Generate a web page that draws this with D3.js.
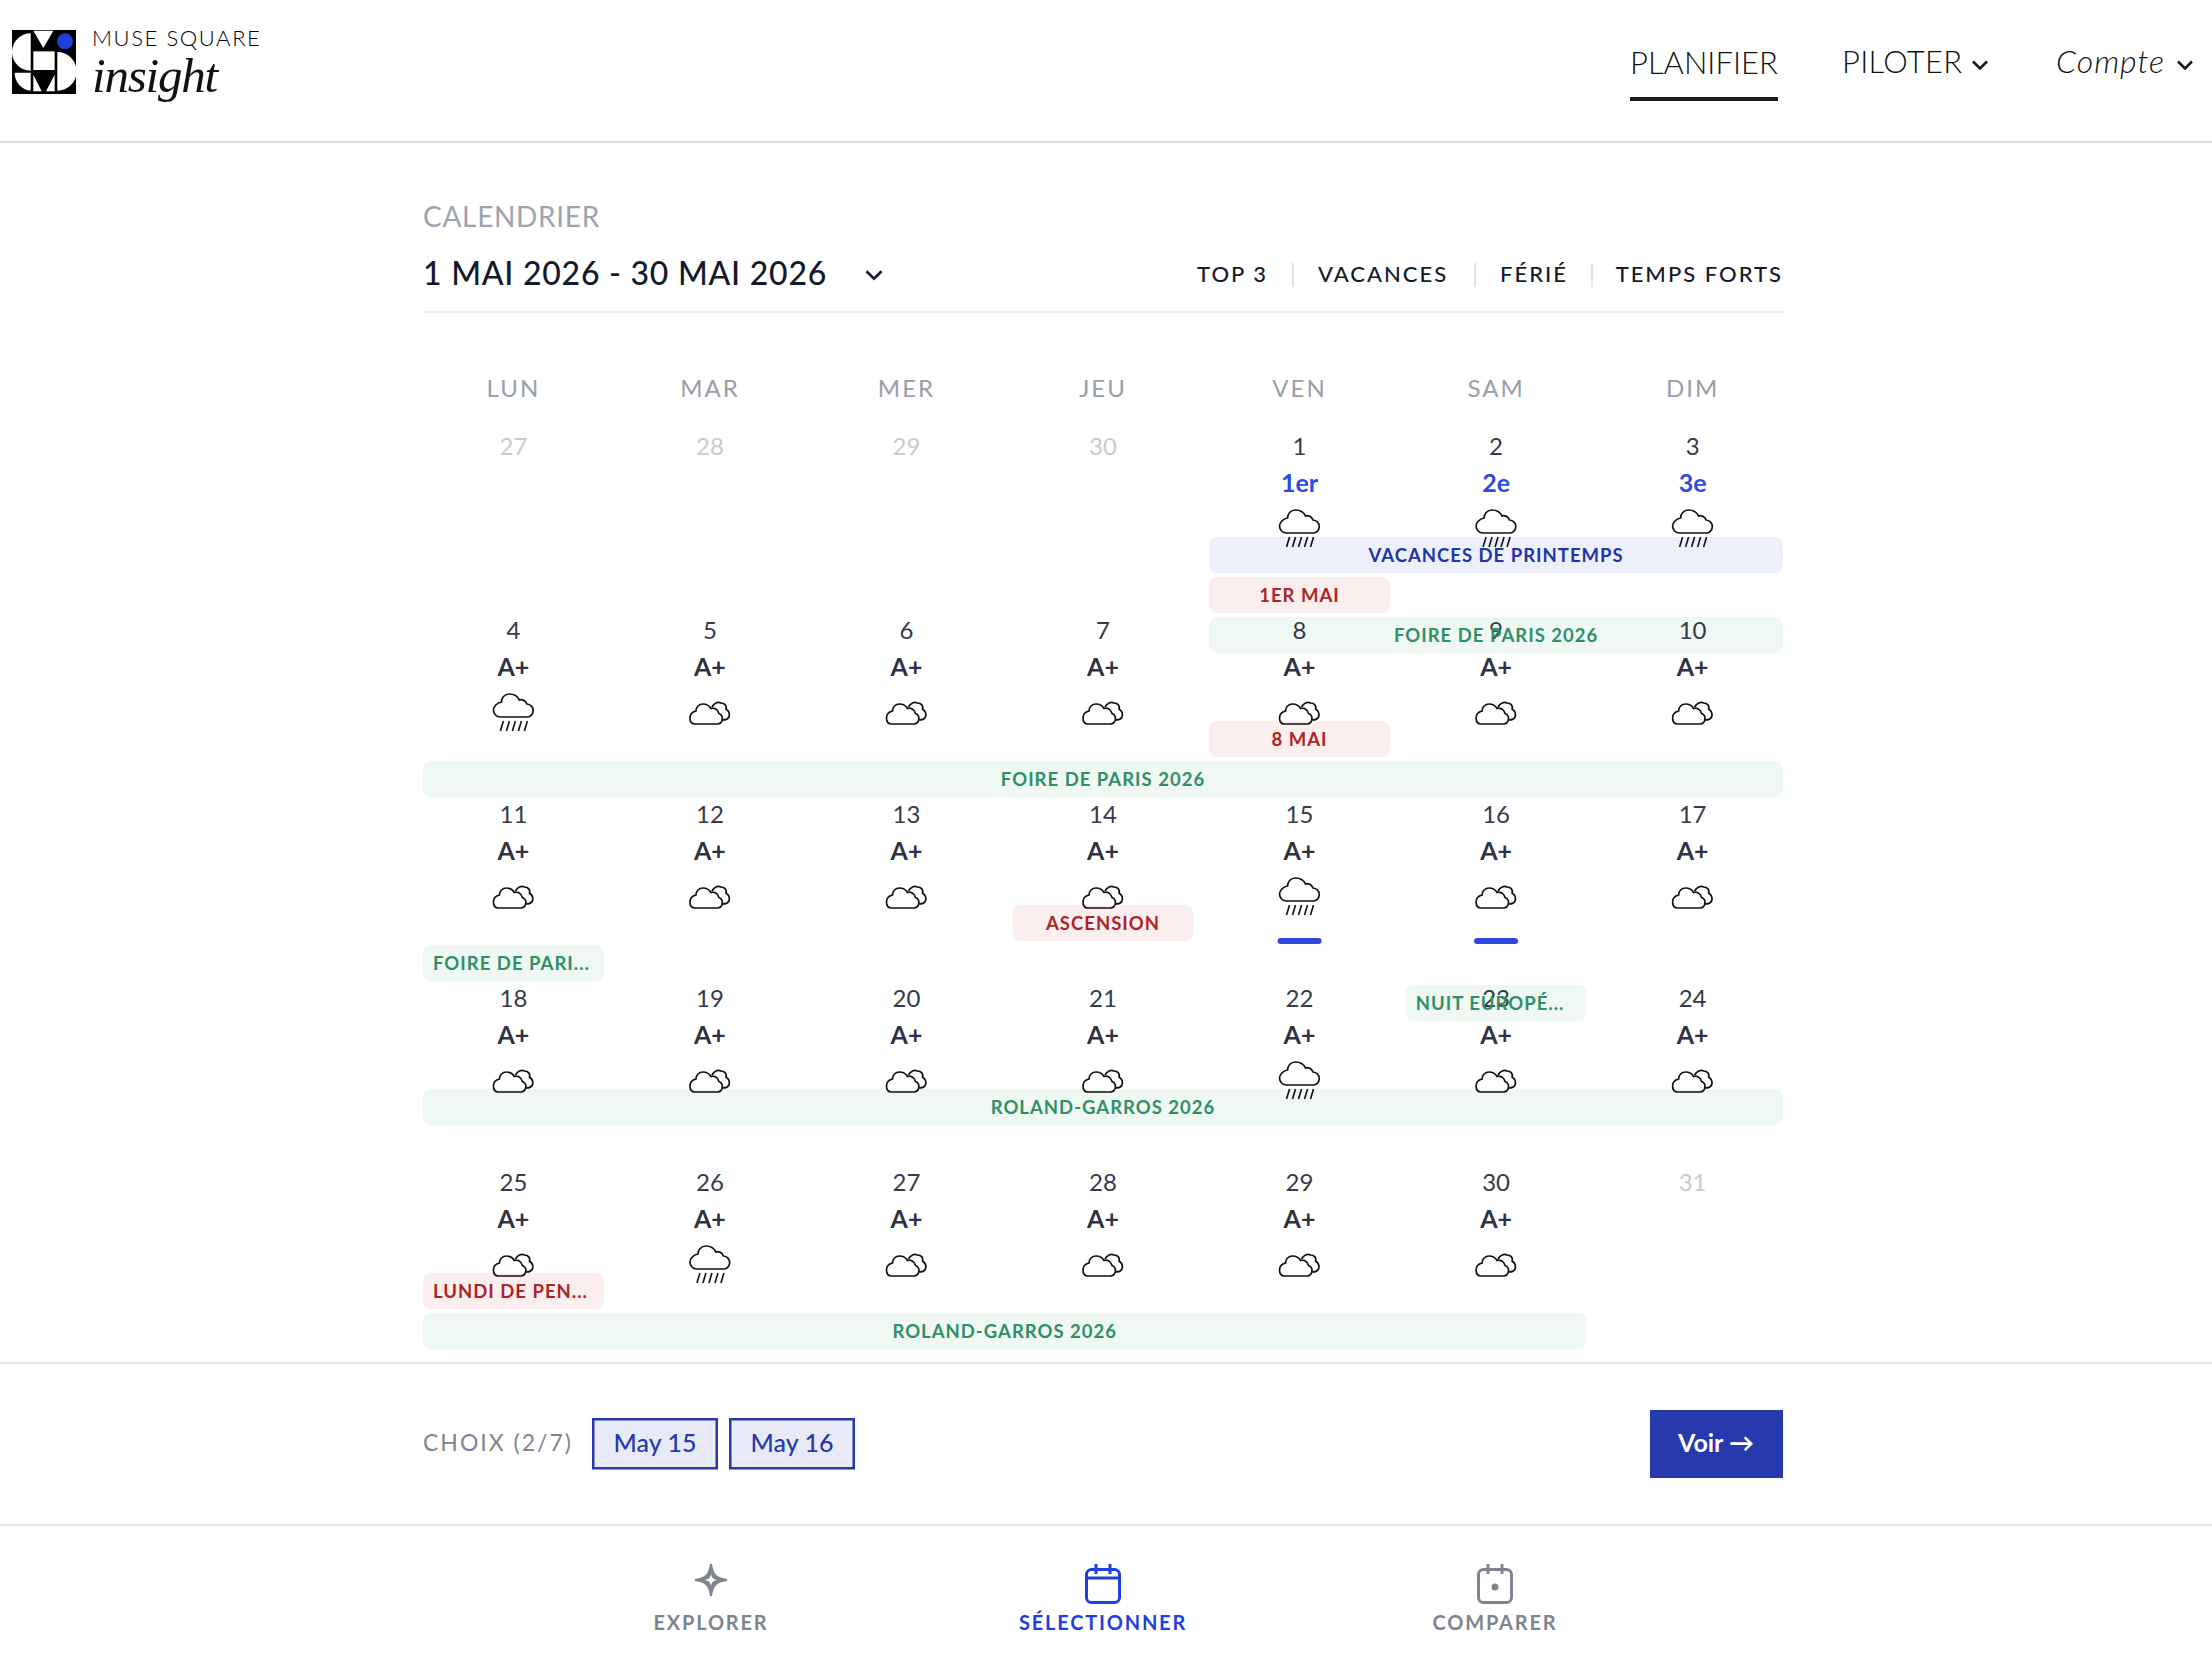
<!DOCTYPE html>
<html><head><meta charset="utf-8"><title>Calendrier</title>
<script src="https://d3js.org/d3.v7.min.js"></script>
<style>html,body{margin:0;padding:0;background:#fff}svg{display:block}text{font-family:Lato,"Noto Sans",sans-serif}</style>
</head><body><svg id="c" width="2212" height="1663"></svg>
<script>
const dayLabels=["LUN","MAR","MER","JEU","VEN","SAM","DIM"];
const dateValues=[27,28,29,30,1,2,3,4,5,6,7,8,9,10,11,12,13,14,15,16,17,18,19,20,21,22,23,24,25,26,27,28,29,30,31];
const mutedCells=[0,1,2,3,34];
const rankedDates=[1,2,3];
const rankLabels=["1er","2e","3e"];
const defaultRank="A+";
const rainyDates=[1,2,3,4,15,22,26];
const selectedDates=[15,16];
const filterLabels=["TOP 3","VACANCES","FÉRIÉ","TEMPS FORTS"];
const eventLabels=["VACANCES DE PRINTEMPS","1ER MAI","FOIRE DE PARIS 2026","8 MAI","FOIRE DE PARIS 2026","ASCENSION","FOIRE DE PARI...","NUIT EUROPÉ...","ROLAND-GARROS 2026","LUNDI DE PEN...","ROLAND-GARROS 2026"];
const eventKinds=["holiday","public","fair","public","fair","public","fair","fair","fair","public","fair"];
const eventRows=[0,0,0,1,1,2,2,2,3,4,4];
const eventLanes=[0,1,2,0,1,0,1,2,0,0,1];
const eventStartCols=[4,4,4,4,0,3,0,5,0,0,0];
const eventEndCols=[6,4,6,4,6,3,0,5,6,0,5];
const choiceLabels=["May 15","May 16"];
const tabLabels=["EXPLORER","SÉLECTIONNER","COMPARER"];

const svg=d3.select("#c");
const x=d3.scaleBand().domain(d3.range(7)).range([423,1783]).paddingInner(0.08);
const cx=c=>x(c)+x.bandwidth()/2;
const rowY=d3.scalePoint().domain(d3.range(5)).range([455,1191]);
const kindFill=d3.scaleOrdinal().domain(["holiday","public","fair"]).range(["#edf0fa","#fbeeee","#eff8f3"]);
const kindText=d3.scaleOrdinal().domain(["holiday","public","fair"]).range(["#1f35a8","#ab2525","#2f9068"]);

function txt(t,a,b,o={}){
  return svg.append("text").attr("x",a).attr("y",b).text(t)
   .attr("font-size",o.size||24).attr("fill",o.fill||"#222").attr("font-weight",o.weight||400)
   .attr("text-anchor",o.anchor||"start").style("letter-spacing",(o.ls||0)+"px")
   .style("font-style",o.italic?"italic":"normal").style("font-family",o.family||null);
}
function hr(a,b,y,c){svg.append("rect").attr("x",a).attr("y",y-1).attr("width",b-a).attr("height",2).attr("fill",c);}
function chevron(a,b,w,c,sw){svg.append("path").attr("d",`M${a-w/2},${b-w/4}L${a},${b+w/4}L${a+w/2},${b-w/4}`).attr("fill","none").attr("stroke",c).attr("stroke-width",sw);}

// header
const logo=svg.append("g").attr("transform","translate(10,28) scale(0.3333)");
logo.append("rect").attr("x",6).attr("y",6).attr("width",192).attr("height",192).attr("fill","#000");
const logoWhite=["M62,16V128A56,56 0 0 1 62,16Z","M70,8H130L100,60Z","M70,70H134V126H70Z","M142,72A58,58 0 0 1 142,188Z","M14,134H62V188A52,54 0 0 1 14,134Z","M70,140L95,190H70Z","M134,140L108,190H134Z"];
logo.selectAll("path").data(logoWhite).join("path").attr("d",d=>d).attr("fill","#fff");
logo.append("circle").attr("cx",165).attr("cy",40).attr("r",24).attr("fill","#1f3fd9");
txt("MUSE SQUARE",92,46,{size:22,weight:300,fill:"#000",ls:1.6});
txt("insight",92,92,{size:49,fill:"#111",italic:true,family:"'Liberation Serif',serif",ls:-1.2});
txt("PLANIFIER",1630,74,{size:31,weight:300,fill:"#111"});
svg.append("rect").attr("x",1630).attr("y",97).attr("width",148).attr("height",4).attr("fill","#1a1a1a");
txt("PILOTER",1842,73,{size:31,weight:300,fill:"#111",ls:0.3});
chevron(1980,65,14,"#1a1a1a",2.6);
txt("Compte",2056,73,{size:32,weight:300,fill:"#111",italic:true,ls:1});
chevron(2185,65,14,"#1a1a1a",2.6);
hr(0,2212,142,"#d8d8d8");

// title
txt("CALENDRIER",423,227,{size:28,fill:"#9ea3b0",ls:0.7});
txt("1 MAI 2026 - 30 MAI 2026",423,285,{size:32,weight:500,fill:"#141a2b",ls:0.75});
chevron(874,275,15,"#141a2b",2.6);
hr(423,1783,312,"#ececec");
const filterX=[1197,1318,1500,1783],sepX=[1293,1475,1592];
filterLabels.forEach((t,i)=>txt(t,filterX[i],282,{size:22,weight:500,fill:"#141a2b",ls:2,anchor:i==3?"end":"start"}));
svg.selectAll("line.sep").data(sepX).join("line").attr("class","sep").attr("x1",d=>d).attr("x2",d=>d).attr("y1",263).attr("y2",287).attr("stroke","#e2e3e8").attr("stroke-width",2);

// headers
svg.selectAll("text.day").data(dayLabels).join("text").attr("class","day")
 .attr("x",(d,i)=>cx(i)).attr("y",397).attr("text-anchor","middle").attr("font-size",24).attr("fill","#9b9ea8").style("letter-spacing","2px").text(d=>d);

// event bars
const events=eventLabels.map((label,i)=>({label,kind:eventKinds[i],row:eventRows[i],lane:eventLanes[i],a:eventStartCols[i],b:eventEndCols[i]}));
const barY=e=>rowY(e.row)+82+e.lane*40;
svg.selectAll("rect.evt").data(events).join("rect").attr("class","evt")
 .attr("x",e=>x(e.a)).attr("y",barY).attr("width",e=>x(e.b)+x.bandwidth()-x(e.a)).attr("height",36)
 .attr("rx",8).attr("fill",e=>kindFill(e.kind));

// cells
const cloudPath="M-15,85H8A5.5,5.5 0 0 0 9,74.5C8,70 4,68.5 1,69.5C-1,66 -4,65 -7,65C-11,65 -14,68 -14,72C-18,73 -20,76 -20,79C-20,83 -18,85 -15,85ZM2,68C4,64 8,62.5 11,64C15,64 17,67 16,70C19,72 20,75 19,78C18,80 16,81 13,81";
const rainPath="M-13,78H13A6.5,6.5 0 0 0 13.5,65C12,61 8,60 6,61C4,57 0,55 -4,55C-9,55 -12,59 -12,63C-17,64 -20,68 -20,71C-20,75 -17,78 -13,78Z";
const slashes=[-13,-7,-1,5,11];
const cells=dateValues.map((d,i)=>({d,i,col:i%7,row:Math.floor(i/7),muted:mutedCells.includes(i)}));
const cg=svg.selectAll("g.cell").data(cells).join("g").attr("class","cell").attr("transform",c=>`translate(${cx(c.col)},${rowY(c.row)})`);
cg.append("text").attr("text-anchor","middle").attr("font-size",24).attr("fill",c=>c.muted?"#c9cad0":"#363a49").text(c=>c.d);
const active=cg.filter(c=>!c.muted);
active.append("text").attr("y",37).attr("text-anchor","middle").attr("font-size",25).attr("font-weight",700)
 .attr("fill",c=>rankedDates.includes(c.d)?"#2f49e0":"#2f3242").text(c=>rankedDates.includes(c.d)?rankLabels[rankedDates.indexOf(c.d)]:defaultRank);
active.append("path").attr("d",c=>rainyDates.includes(c.d)?rainPath:cloudPath).attr("fill","none").attr("stroke","#111").attr("stroke-width",1.7);
active.filter(c=>rainyDates.includes(c.d)).selectAll("line").data(slashes).join("line")
 .attr("x1",s=>s).attr("x2",s=>s+3).attr("y1",92).attr("y2",82).attr("stroke","#111").attr("stroke-width",1.6);
active.filter(c=>selectedDates.includes(c.d)).append("rect").attr("x",-22).attr("y",115).attr("width",44).attr("height",6).attr("rx",3).attr("fill","#2f49e0");

// event labels
svg.selectAll("text.evt").data(events).join("text").attr("class","evt")
 .attr("x",e=>e.label.endsWith("...")?x(e.a)+10:(x(e.a)+x(e.b)+x.bandwidth())/2)
 .attr("text-anchor",e=>e.label.endsWith("...")?"start":"middle")
 .attr("y",e=>barY(e)+25).attr("font-size",18.5).attr("font-weight",700).style("letter-spacing","1px")
 .attr("fill",e=>kindText(e.kind)).text(e=>e.label);

// choice bar
hr(0,2212,1363,"#e4e4e4");
txt("CHOIX (2/7)",423,1451,{size:23,fill:"#80848f",ls:2});
const chipX=[592,729];
choiceLabels.forEach((t,i)=>{
 svg.append("rect").attr("x",chipX[i]+1.25).attr("y",1419.25).attr("width",123.5).attr("height",49).attr("fill","#e8ebf7").attr("stroke","#2639ad").attr("stroke-width",2.5);
 txt(t,chipX[i]+63,1452,{size:25,weight:500,fill:"#2639ad",anchor:"middle"});
});
svg.append("rect").attr("x",1650).attr("y",1410).attr("width",133).attr("height",68).attr("fill","#2639ad");
txt("Voir →",1716,1452,{size:25,weight:700,fill:"#fff",anchor:"middle"});
hr(0,2212,1525,"#e4e4e4");

// tabs
const tabX=[711,1103,1495],tabC=["#80848f","#1f3fe0","#80848f"];
tabLabels.forEach((t,i)=>txt(t,tabX[i],1630,{size:20,weight:700,fill:tabC[i],ls:1.8,anchor:"middle"}));
const star="M0,-16C1.5,-5 5,-1.5 16,0C5,1.5 1.5,5 0,16C-1.5,5 -5,1.5 -16,0C-5,-1.5 -1.5,-5 0,-16Z";
const sg=svg.append("g").attr("transform","translate(711,1580)");
sg.append("path").attr("d",star).attr("fill","#80848f").attr("stroke","#80848f").attr("stroke-width",2);
sg.append("path").attr("d",star).attr("fill","#fff").attr("transform","scale(0.4)");
function cal(a,c,band){
 const g=svg.append("g").attr("fill","none").attr("stroke",c).attr("stroke-width",3);
 g.append("rect").attr("x",a-16.5).attr("y",1569.5).attr("width",33).attr("height",33).attr("rx",5);
 [-7,7].forEach(d=>g.append("line").attr("x1",a+d).attr("x2",a+d).attr("y1",1564).attr("y2",1574));
 if(band)g.append("line").attr("x1",a-16).attr("x2",a+16).attr("y1",1578).attr("y2",1578);
 return g;
}
cal(1103,"#1f3fe0",true);
cal(1495,"#80848f",false);
svg.append("circle").attr("cx",1495).attr("cy",1587).attr("r",3.5).attr("fill","#80848f");
</script></body></html>
